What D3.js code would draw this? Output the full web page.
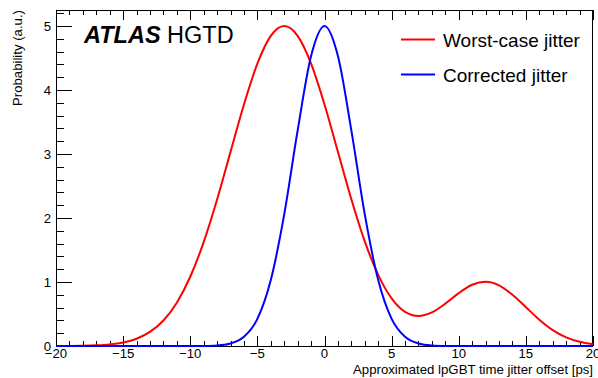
<!DOCTYPE html>
<html><head><meta charset="utf-8">
<script src="https://cdn.jsdelivr.net/npm/d3@7"></script>
<style>
html,body{margin:0;padding:0;background:#fff;}
svg{display:block;font-family:"Liberation Sans",Arial,Helvetica,sans-serif;}
</style></head>
<body>
<svg id="c" width="598" height="378"></svg>
<script>
// ---- data ----
const xValues = [-20,-19,-18,-17,-16,-15,-14,-13,-12,-11,-10,-9,-8,-7,-6,-5,-4,-3,-2,-1,0,1,2,3,4,5,6,7,8,9,10,11,12,13,14,15,16,17,18,19,20];
const worstCase = [0.0006,0.0017,0.0044,0.0109,0.0254,0.0555,0.114,0.220,0.398,0.677,1.082,1.623,2.289,3.033,3.774,4.412,4.846,5.0,4.846,4.412,3.774,3.034,2.293,1.634,1.111,0.743,0.533,0.469,0.525,0.662,0.826,0.957,1.004,0.948,0.801,0.607,0.411,0.249,0.135,0.066,0.029];
const corrected = [0,0,0,0,0,0,0,0,0,0,0,0.0017,0.009,0.040,0.143,0.423,1.030,2.056,3.368,4.530,5.0,4.530,3.368,2.056,1.030,0.423,0.143,0.040,0.009,0.0017,0,0,0,0,0,0,0,0,0,0,0];
const xTicks = [-20,-15,-10,-5,0,5,10,15,20];
const yTicks = [0,1,2,3,4,5];
const seriesNames = ["Worst-case jitter","Corrected jitter"];
const seriesColors = ["#ff0000","#0000ff"];
const xTitle = "Approximated lpGBT time jitter offset [ps]";
const yTitle = "Probability (a.u.)";

// ---- layout ----
const L = 56, R = 593, T = 10, B = 346;
const svg = d3.select("#c");
const x = d3.scaleLinear().domain([-20, 20]).range([L, R]);
const y = d3.scaleLinear().domain([0, 5.25]).range([B, T]);

const fs = 13.2;
// frame
svg.append("rect").attr("x", L + 0.5).attr("y", T + 0.5).attr("width", R - L - 1).attr("height", B - T)
  .attr("fill", "none").attr("stroke", "#000").attr("stroke-width", 1);

const g = svg.append("g").attr("stroke", "#000").attr("stroke-width", 1);
// x ticks: minor each 1, major each 5 (bottom and top)
const xMinor = d3.range(-20, 20.001, 1);
xMinor.forEach(v => {
  const major = xTicks.includes(v);
  const len = major ? 10 : 5;
  const px = Math.round(x(v)) + 0.5;
  g.append("line").attr("x1", px).attr("x2", px).attr("y1", B).attr("y2", B - len);
  g.append("line").attr("x1", px).attr("x2", px).attr("y1", T).attr("y2", T + len);
});
// y ticks: minor each 0.2, major each 1
const yMinor = d3.range(0, 5.2001, 0.2);
yMinor.forEach(v => {
  const major = yTicks.some(t => Math.abs(t - v) < 1e-6);
  const len = major ? 16 : 8;
  const py = Math.round(y(v)) + 0.5;
  g.append("line").attr("x1", L).attr("x2", L + len).attr("y1", py).attr("y2", py);
});

// tick labels
const fmt = d3.format("");
svg.append("g").selectAll("text").data(xTicks).join("text")
  .attr("x", d => x(d)).attr("y", 358).attr("text-anchor", "middle")
  .attr("font-size", fs).text(d => fmt(d));
svg.append("g").selectAll("text").data(yTicks).join("text")
  .attr("x", 51).attr("y", d => y(d) + 4.6).attr("text-anchor", "end")
  .attr("font-size", fs).text(d => fmt(d));

// axis titles
svg.append("text").attr("x", R).attr("y", 374).attr("text-anchor", "end")
  .attr("font-size", fs).text(xTitle);
svg.append("text").attr("transform", `translate(22,${T}) rotate(-90)`).attr("text-anchor", "end")
  .attr("font-size", fs).text(yTitle);

// curves
const line = d3.line().x((d, i) => x(xValues[i])).y(d => y(d)).curve(d3.curveMonotoneX);
[worstCase, corrected].forEach((s, k) => {
  svg.append("path").attr("d", line(s)).attr("fill", "none")
    .attr("stroke", seriesColors[k]).attr("stroke-width", 2);
});

// ATLAS label
const at = svg.append("text").attr("x", 84).attr("y", 43).attr("font-size", 23.5);
at.append("tspan").attr("font-weight", "bold").attr("font-style", "italic").text("ATLAS");
at.append("tspan").text(" HGTD");

// legend
seriesNames.forEach((n, k) => {
  const ly = 39.5 + k * 35;
  svg.append("line").attr("x1", 401).attr("x2", 435).attr("y1", ly).attr("y2", ly)
    .attr("stroke", seriesColors[k]).attr("stroke-width", 2);
  svg.append("text").attr("x", 443).attr("y", ly + 7.5).attr("font-size", 19).text(n);
});
</script>
</body></html>
